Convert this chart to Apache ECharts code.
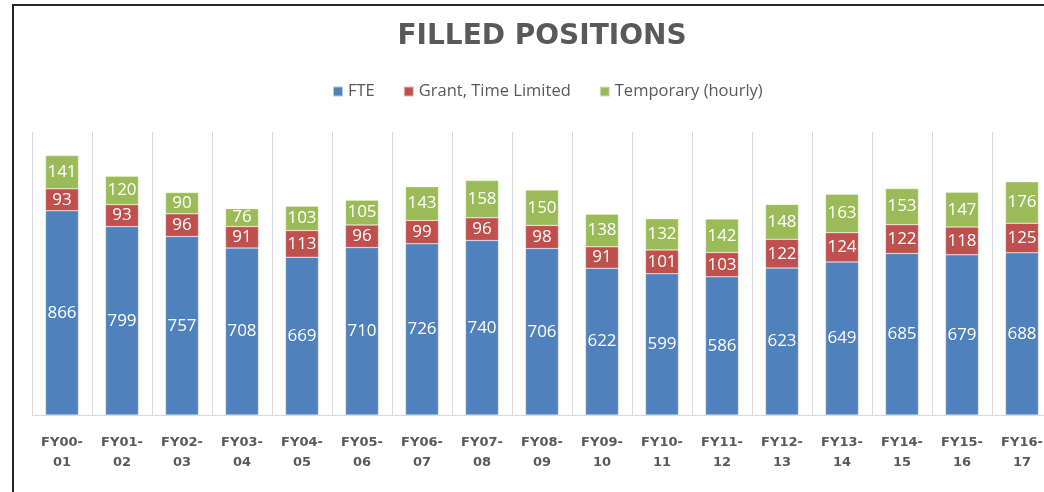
<!DOCTYPE html>
<html><head><meta charset="utf-8">
<script src="https://cdn.jsdelivr.net/npm/echarts@6/dist/echarts.min.js"></script>
<style>html,body{margin:0;padding:0;background:#fff;overflow:hidden}
#wrap{position:relative;width:1044px;height:492px}
#c{width:1044px;height:492px}
#frame{position:absolute;left:12px;top:4px;width:1100px;height:486px;border-left:2.5px solid #262626;border-top:2.5px solid #262626;border-bottom:1px solid #e3e3e3;pointer-events:none}
</style>
</head><body><div id="wrap"><div id="c"></div><div id="frame"></div></div>
<script>
const categories = ['FY00-\n01','FY01-\n02','FY02-\n03','FY03-\n04','FY04-\n05','FY05-\n06','FY06-\n07','FY07-\n08','FY08-\n09','FY09-\n10','FY10-\n11','FY11-\n12','FY12-\n13','FY13-\n14','FY14-\n15','FY15-\n16','FY16-\n17'];
const fte = [866,799,757,708,669,710,726,740,706,622,599,586,623,649,685,679,688];
const grant = [93,93,96,91,113,96,99,96,98,91,101,103,122,124,122,118,125];
const temporary = [141,120,90,76,103,105,143,158,150,138,132,142,148,163,153,147,176];
const seriesNames = ['FTE','Grant, Time Limited','Temporary (hourly)'];

const chart = echarts.init(document.getElementById('c'), null, {renderer:'canvas'});
const lbl = {show:true, position:'inside', color:'#fff', fontSize:17, fontFamily:'Open Sans, Noto Sans, sans-serif'};
const mk = (name, data, color) => ({
  name, type:'bar', stack:'t', data, barWidth:33,
  itemStyle:{color, borderColor:'rgba(255,255,255,0.6)', borderWidth:0.5},
  label:lbl
});
chart.setOption({
  animation:false,
  title:{text:'FILLED POSITIONS', left:537, top:18, textAlign:'center',
    textStyle:{fontSize:28, fontWeight:'bold', color:'#595959', fontFamily:'DejaVu Sans, sans-serif'}},
  legend:{top:78, left:327, itemWidth:10, itemHeight:10, itemGap:28,
    icon:'rect',
    textStyle:{fontSize:16.5, color:'#595959', fontFamily:'Open Sans, Noto Sans, sans-serif'},
    data:seriesNames},
  grid:{left:32, width:1020, top:132, height:283, containLabel:false, outerBoundsMode:'none'},
  xAxis:{type:'category', data:categories, boundaryGap:true,
    axisLine:{lineStyle:{color:'#d9d9d9'}}, axisTick:{show:false},
    splitLine:{show:true, lineStyle:{color:'#d9d9d9'}},
    axisLabel:{color:'#595959', fontSize:13, fontWeight:'bold', lineHeight:20, margin:18, interval:0,
      fontFamily:'DejaVu Sans, sans-serif'}},
  yAxis:{type:'value', min:0, max:1200, show:false, splitLine:{show:false}},
  series:[mk(seriesNames[0], fte, '#4F81BD'), mk(seriesNames[1], grant, '#C0504D'), mk(seriesNames[2], temporary, '#9BBB59')]
});
</script></body></html>
